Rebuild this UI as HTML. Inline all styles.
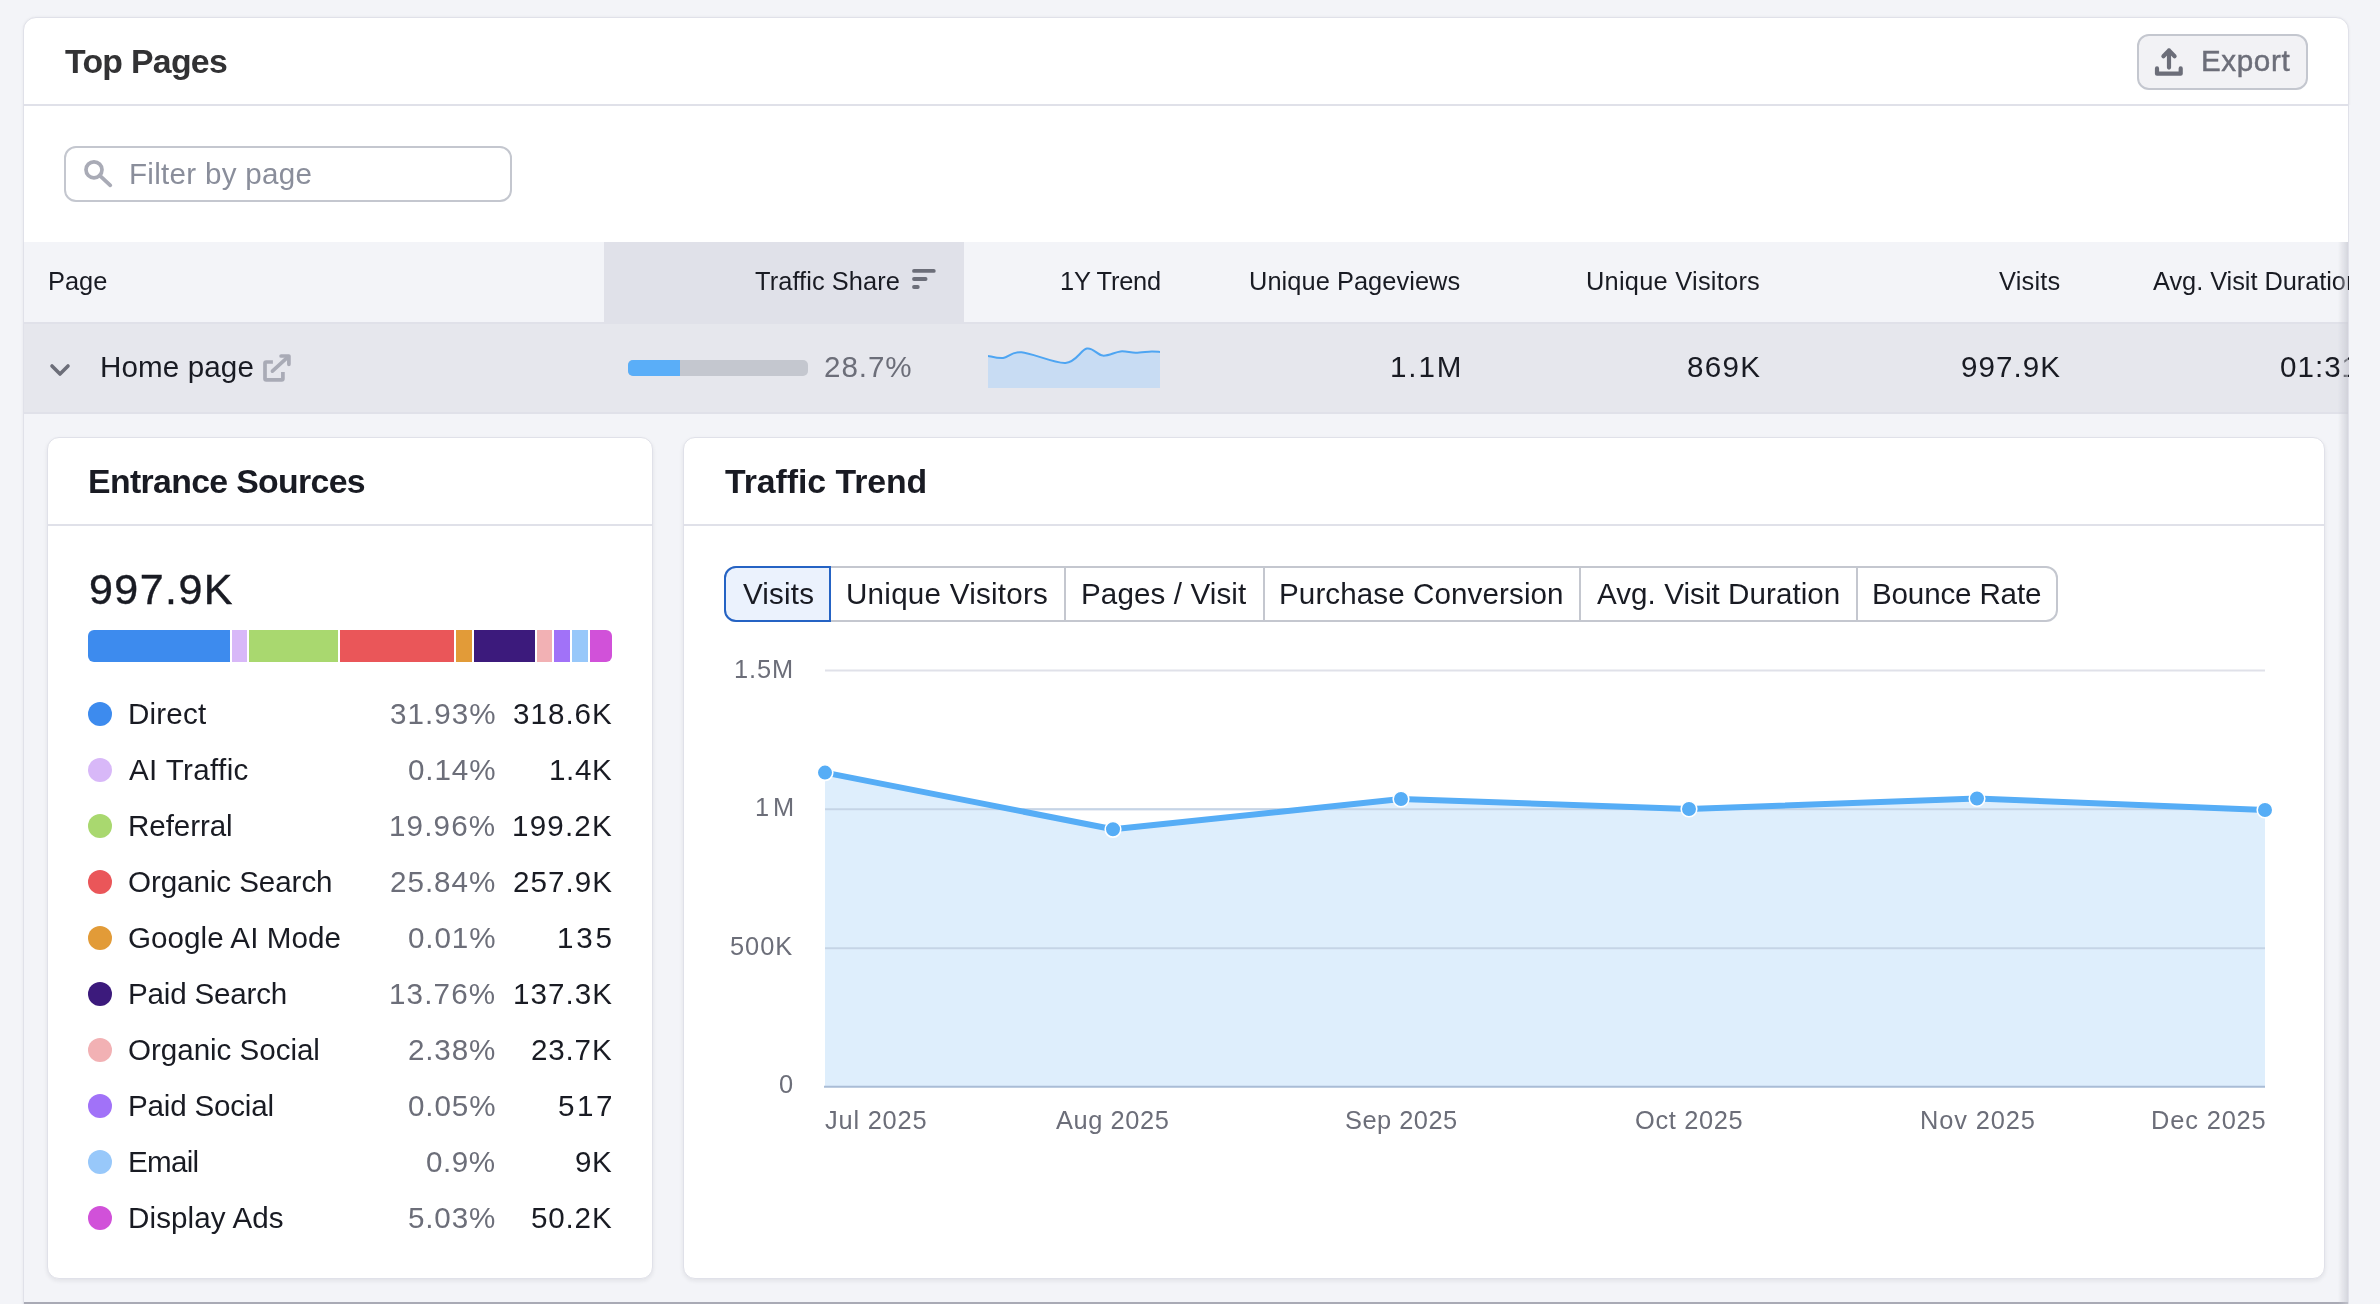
<!DOCTYPE html>
<html><head><meta charset="utf-8">
<style>
*{box-sizing:border-box;margin:0;padding:0}
html,body{width:2380px;height:1304px;overflow:hidden;background:#f3f4f8;font-family:"Liberation Sans", sans-serif;color:#191b23}
.a{position:absolute}
.t{position:absolute;white-space:nowrap;line-height:1;will-change:transform}
</style></head><body>
<div class="a" style="left:23px;top:17px;width:2326px;height:1400px;background:#fff;border:1px solid #e0e1e9;border-radius:13px;box-shadow:0 0 3px rgba(25,27,35,.06)"></div>
<div class="t" style="left:64.78px;top:44.60px;font-size:33.8px;color:#323234;font-weight:700;letter-spacing:-0.71px;">Top Pages</div>
<div class="a" style="left:24px;top:104px;width:2324px;height:2px;background:#e0e1e9"></div>
<div class="a" style="left:2137px;top:34px;width:171px;height:56px;border:2px solid #c4c7cf;border-radius:12px;background:#f2f2f5"></div>
<svg class="a" style="left:2153px;top:46px" width="32" height="32" viewBox="0 0 32 32"><path d="M16 4.4v17.2M10.4 10.2L16 4.4l5.6 5.8M4 22.4v5.3h23.7v-5.3" fill="none" stroke="#6c6e79" stroke-width="4.2" stroke-linecap="round" stroke-linejoin="round"/></svg>
<div class="t" style="left:2200.53px;top:46.00px;font-size:29.6px;color:#6c6e79;letter-spacing:0.62px;-webkit-text-stroke:0.45px #6c6e79;">Export</div>
<div class="a" style="left:64px;top:146px;width:448px;height:56px;border:2px solid #c4c7cf;border-radius:12px;background:#fff"></div>
<svg class="a" style="left:82px;top:158px" width="32" height="32" viewBox="0 0 32 32"><circle cx="12" cy="11.8" r="8" fill="none" stroke="#a9abb6" stroke-width="3.7"/><path d="M17.6 17.4L28.3 27.3" stroke="#a9abb6" stroke-width="3.8" stroke-linecap="round"/></svg>
<div class="t" style="left:128.53px;top:159.00px;font-size:29.6px;color:#8a8e9b;letter-spacing:0.28px;">Filter by page</div>
<div class="a" style="left:24px;top:242px;width:2324px;height:1062px;overflow:hidden">
<div class="a" style="left:0px;top:0px;width:2400px;height:80px;background:#f3f4f8"></div>
<div class="a" style="left:580px;top:0px;width:360px;height:82px;background:#e0e1e9"></div>
<div class="a" style="left:0px;top:80px;width:2400px;height:2px;background:#e0e1e9"></div>
<div class="a" style="left:0px;top:82px;width:2400px;height:88px;background:#e6e7ed"></div>
<div class="a" style="left:0px;top:170px;width:2400px;height:2px;background:#e0e1e9"></div>
<div class="a" style="left:0px;top:172px;width:2400px;height:1060px;background:#f3f4f8"></div>
<div class="a" style="left:0px;top:1060px;width:2400px;height:2px;background:#a9aab5"></div>
</div>
<div class="t" style="left:47.59px;top:269.00px;font-size:25.4px;color:#191b23;">Page</div>
<div class="t" style="left:755.40px;top:269.00px;font-size:25.4px;color:#191b23;letter-spacing:0.08px;">Traffic Share</div>
<svg class="a" style="left:910px;top:267px" width="28" height="24" viewBox="0 0 28 24"><path d="M4 3.9h19.8M4 12h11.6M4 20h3.8" stroke="#6c6e79" stroke-width="3.8" stroke-linecap="round"/></svg>
<div class="t" style="left:1059.91px;top:269.00px;font-size:25.4px;color:#191b23;letter-spacing:-0.21px;">1Y Trend</div>
<div class="t" style="left:1249.13px;top:269.00px;font-size:25.4px;color:#191b23;letter-spacing:0.06px;">Unique Pageviews</div>
<div class="t" style="left:1586.33px;top:269.00px;font-size:25.4px;color:#191b23;letter-spacing:0.25px;">Unique Visitors</div>
<div class="t" style="left:1998.82px;top:269.00px;font-size:25.4px;color:#191b23;letter-spacing:0.21px;">Visits</div>
<div class="t" style="left:2152.58px;top:269.00px;font-size:25.4px;color:#191b23;letter-spacing:-0.05px;">Avg. Visit Duration</div>
<svg class="a" style="left:46px;top:356px" width="28" height="28" viewBox="0 0 28 28"><path d="M6 10l8 8 8-8" fill="none" stroke="#6c6e79" stroke-width="3.6" stroke-linecap="round" stroke-linejoin="round"/></svg>
<div class="t" style="left:99.53px;top:352.00px;font-size:29.6px;color:#191b23;letter-spacing:0.11px;">Home page</div>
<svg class="a" style="left:263px;top:354px" width="28" height="28" viewBox="0 0 28 28"><path d="M9.9 8H3.2a1.2 1.2 0 0 0-1.2 1.2V24.7a1.2 1.2 0 0 0 1.2 1.2H18.7a1.2 1.2 0 0 0 1.2-1.2V18.1" fill="none" stroke="#a9abb6" stroke-width="3.7"/><path d="M9.4 17.2L24.2 3.6" fill="none" stroke="#a9abb6" stroke-width="3.6" stroke-linecap="round"/><path d="M18.1 2H25.9V10.3" fill="none" stroke="#a9abb6" stroke-width="3.7" stroke-linecap="round" stroke-linejoin="round"/></svg>
<div class="a" style="left:628px;top:360px;width:180px;height:16px;background:#c4c7cf;border-radius:5px;overflow:hidden"></div>
<div class="a" style="left:628px;top:360px;width:52px;height:16px;background:#5aaef8;border-radius:5px 0 0 5px"></div>
<div class="t" style="left:824.49px;top:352.00px;font-size:29.6px;color:#6c6e79;letter-spacing:0.93px;">28.7%</div>
<svg class="a" style="left:988px;top:340px" width="172" height="48" viewBox="0 0 172 48"><path d="M0 15.9 C2.5 16.2 9.5 18.6 15.1 18 C20.7 17.4 23.1 11.4 33.5 12.2 C43.9 13.0 66.5 23.5 77.4 22.9 C88.3 22.3 92.7 9.8 98.9 8.6 C105.2 7.4 109.3 15.1 114.9 15.6 C120.5 16.1 127.0 11.9 132.5 11.4 C137.9 10.9 142.4 12.7 147.6 12.7 C152.8 12.7 159.5 11.5 163.6 11.4 C167.7 11.3 170.6 11.9 172 12 L172 48 L0 48Z" fill="#c8dcf3"/><path d="M0 15.9 C2.5 16.2 9.5 18.6 15.1 18 C20.7 17.4 23.1 11.4 33.5 12.2 C43.9 13.0 66.5 23.5 77.4 22.9 C88.3 22.3 92.7 9.8 98.9 8.6 C105.2 7.4 109.3 15.1 114.9 15.6 C120.5 16.1 127.0 11.9 132.5 11.4 C137.9 10.9 142.4 12.7 147.6 12.7 C152.8 12.7 159.5 11.5 163.6 11.4 C167.7 11.3 170.6 11.9 172 12" fill="none" stroke="#4ea5f2" stroke-width="2"/></svg>
<div class="t" style="left:1390.08px;top:352.00px;font-size:29.6px;color:#191b23;letter-spacing:1.89px;">1.1M</div>
<div class="t" style="left:1686.92px;top:352.00px;font-size:29.6px;color:#191b23;letter-spacing:1.25px;">869K</div>
<div class="t" style="left:1961.05px;top:352.00px;font-size:29.6px;color:#191b23;letter-spacing:1.05px;">997.9K</div>
<div class="t" style="left:2279.75px;top:352.00px;font-size:29.6px;color:#191b23;letter-spacing:1.00px;">01:31</div>
<div class="a" style="left:2338px;top:242px;width:10px;height:1062px;background:linear-gradient(to right,rgba(200,201,210,0),rgba(200,201,210,.7))"></div>
<div class="a" style="left:2349px;top:105px;width:31px;height:1199px;background:#f3f4f8"></div>
<div class="a" style="left:47px;top:437px;width:606px;height:842px;background:#fff;border:1px solid #e0e1e9;border-radius:12px;box-shadow:0 2px 4px rgba(25,27,35,.08)"></div>
<div class="t" style="left:88.14px;top:464.80px;font-size:33.8px;color:#191b23;font-weight:700;letter-spacing:-0.65px;">Entrance Sources</div>
<div class="a" style="left:48px;top:524px;width:604px;height:2px;background:#e0e1e9"></div>
<div class="t" style="left:88.54px;top:567.90px;font-size:43px;color:#191b23;letter-spacing:1.43px;-webkit-text-stroke:0.4px #191b23;">997.9K</div>
<div class="a" style="left:88px;top:630px;width:142px;height:32px;background:#3d8bee;border-radius:6px 0 0 6px;"></div>
<div class="a" style="left:232px;top:630px;width:15px;height:32px;background:#d8b8f8;"></div>
<div class="a" style="left:249px;top:630px;width:89px;height:32px;background:#a9d86f;"></div>
<div class="a" style="left:340px;top:630px;width:114px;height:32px;background:#ea5659;"></div>
<div class="a" style="left:456px;top:630px;width:16px;height:32px;background:#e29b38;"></div>
<div class="a" style="left:474px;top:630px;width:61px;height:32px;background:#3c1a7c;"></div>
<div class="a" style="left:537px;top:630px;width:15px;height:32px;background:#f2b1b4;"></div>
<div class="a" style="left:554px;top:630px;width:16px;height:32px;background:#a172f8;"></div>
<div class="a" style="left:572px;top:630px;width:16px;height:32px;background:#98c8fa;"></div>
<div class="a" style="left:590px;top:630px;width:22px;height:32px;background:#d151d9;border-radius:0 6px 6px 0;"></div>
<div class="a" style="left:88px;top:702px;width:24px;height:24px;background:#3d8bee;border-radius:50%"></div>
<div class="t" style="left:128.03px;top:698.80px;font-size:29.6px;color:#191b23;letter-spacing:0.19px;">Direct</div>
<div class="t" style="left:389.51px;top:698.80px;font-size:29.6px;color:#6c6e79;letter-spacing:1.05px;">31.93%</div>
<div class="t" style="left:513.11px;top:698.80px;font-size:29.6px;color:#191b23;letter-spacing:1.00px;">318.6K</div>
<div class="a" style="left:88px;top:758px;width:24px;height:24px;background:#d8b8f8;border-radius:50%"></div>
<div class="t" style="left:128.55px;top:754.80px;font-size:29.6px;color:#191b23;letter-spacing:0.35px;">AI Traffic</div>
<div class="t" style="left:407.75px;top:754.80px;font-size:29.6px;color:#6c6e79;letter-spacing:0.89px;">0.14%</div>
<div class="t" style="left:549.18px;top:754.80px;font-size:29.6px;color:#191b23;letter-spacing:0.62px;">1.4K</div>
<div class="a" style="left:88px;top:814px;width:24px;height:24px;background:#a9d86f;border-radius:50%"></div>
<div class="t" style="left:128.03px;top:810.80px;font-size:29.6px;color:#191b23;letter-spacing:-0.08px;">Referral</div>
<div class="t" style="left:388.98px;top:810.80px;font-size:29.6px;color:#6c6e79;letter-spacing:1.15px;">19.96%</div>
<div class="t" style="left:512.18px;top:810.80px;font-size:29.6px;color:#191b23;letter-spacing:1.19px;">199.2K</div>
<div class="a" style="left:88px;top:870px;width:24px;height:24px;background:#ea5659;border-radius:50%"></div>
<div class="t" style="left:128.33px;top:866.80px;font-size:29.6px;color:#191b23;letter-spacing:-0.08px;">Organic Search</div>
<div class="t" style="left:389.79px;top:866.80px;font-size:29.6px;color:#6c6e79;letter-spacing:0.99px;">25.84%</div>
<div class="t" style="left:512.99px;top:866.80px;font-size:29.6px;color:#191b23;letter-spacing:1.02px;">257.9K</div>
<div class="a" style="left:88px;top:926px;width:24px;height:24px;background:#e29b38;border-radius:50%"></div>
<div class="t" style="left:128.27px;top:922.80px;font-size:29.6px;color:#191b23;letter-spacing:0.05px;">Google AI Mode</div>
<div class="t" style="left:407.75px;top:922.80px;font-size:29.6px;color:#6c6e79;letter-spacing:0.89px;">0.01%</div>
<div class="t" style="left:557.18px;top:922.80px;font-size:29.6px;color:#191b23;letter-spacing:2.75px;">135</div>
<div class="a" style="left:88px;top:982px;width:24px;height:24px;background:#3c1a7c;border-radius:50%"></div>
<div class="t" style="left:128.03px;top:978.80px;font-size:29.6px;color:#191b23;letter-spacing:-0.20px;">Paid Search</div>
<div class="t" style="left:388.98px;top:978.80px;font-size:29.6px;color:#6c6e79;letter-spacing:1.15px;">13.76%</div>
<div class="t" style="left:512.88px;top:978.80px;font-size:29.6px;color:#191b23;letter-spacing:1.05px;">137.3K</div>
<div class="a" style="left:88px;top:1038px;width:24px;height:24px;background:#f2b1b4;border-radius:50%"></div>
<div class="t" style="left:128.33px;top:1034.80px;font-size:29.6px;color:#191b23;letter-spacing:-0.04px;">Organic Social</div>
<div class="t" style="left:407.99px;top:1034.80px;font-size:29.6px;color:#6c6e79;letter-spacing:0.83px;">2.38%</div>
<div class="t" style="left:531.19px;top:1034.80px;font-size:29.6px;color:#191b23;letter-spacing:0.82px;">23.7K</div>
<div class="a" style="left:88px;top:1094px;width:24px;height:24px;background:#a172f8;border-radius:50%"></div>
<div class="t" style="left:128.03px;top:1090.80px;font-size:29.6px;color:#191b23;letter-spacing:-0.21px;">Paid Social</div>
<div class="t" style="left:407.75px;top:1090.80px;font-size:29.6px;color:#6c6e79;letter-spacing:0.89px;">0.05%</div>
<div class="t" style="left:558.01px;top:1090.80px;font-size:29.6px;color:#191b23;letter-spacing:2.54px;">517</div>
<div class="a" style="left:88px;top:1150px;width:24px;height:24px;background:#98c8fa;border-radius:50%"></div>
<div class="t" style="left:128.03px;top:1146.80px;font-size:29.6px;color:#191b23;letter-spacing:-0.74px;">Email</div>
<div class="t" style="left:425.95px;top:1146.80px;font-size:29.6px;color:#6c6e79;letter-spacing:0.52px;">0.9%</div>
<div class="t" style="left:575.05px;top:1146.80px;font-size:29.6px;color:#191b23;letter-spacing:0.42px;">9K</div>
<div class="a" style="left:88px;top:1206px;width:24px;height:24px;background:#d151d9;border-radius:50%"></div>
<div class="t" style="left:128.03px;top:1202.80px;font-size:29.6px;color:#191b23;letter-spacing:0.10px;">Display Ads</div>
<div class="t" style="left:408.01px;top:1202.80px;font-size:29.6px;color:#6c6e79;letter-spacing:0.83px;">5.03%</div>
<div class="t" style="left:531.21px;top:1202.80px;font-size:29.6px;color:#191b23;letter-spacing:0.82px;">50.2K</div>
<div class="a" style="left:683px;top:437px;width:1642px;height:842px;background:#fff;border:1px solid #e0e1e9;border-radius:12px;box-shadow:0 2px 4px rgba(25,27,35,.08)"></div>
<div class="t" style="left:724.78px;top:464.70px;font-size:33.8px;color:#191b23;font-weight:700;letter-spacing:-0.05px;">Traffic Trend</div>
<div class="a" style="left:684px;top:524px;width:1640px;height:2px;background:#e0e1e9"></div>
<div class="a" style="left:724px;top:566px;width:1334px;height:56px;border:2px solid #c4c7cf;border-radius:12px;background:#fff"></div>
<div class="a" style="left:1064px;top:566px;width:2px;height:56px;background:#c4c7cf"></div>
<div class="a" style="left:1263px;top:566px;width:2px;height:56px;background:#c4c7cf"></div>
<div class="a" style="left:1579px;top:566px;width:2px;height:56px;background:#c4c7cf"></div>
<div class="a" style="left:1856px;top:566px;width:2px;height:56px;background:#c4c7cf"></div>
<div class="a" style="left:724px;top:566px;width:107px;height:56px;border:2px solid #2563c4;border-radius:12px 0 0 12px;background:#ebf2fd"></div>
<div class="t" style="left:742.61px;top:578.50px;font-size:29.6px;color:#191b23;letter-spacing:0.16px;">Visits</div>
<div class="t" style="left:846.45px;top:578.50px;font-size:29.6px;color:#191b23;letter-spacing:0.24px;">Unique Visitors</div>
<div class="t" style="left:1080.73px;top:578.50px;font-size:29.6px;color:#191b23;letter-spacing:0.11px;">Pages / Visit</div>
<div class="t" style="left:1278.93px;top:578.50px;font-size:29.6px;color:#191b23;letter-spacing:0.09px;">Purchase Conversion</div>
<div class="t" style="left:1597.15px;top:578.50px;font-size:29.6px;color:#191b23;letter-spacing:0.05px;">Avg. Visit Duration</div>
<div class="t" style="left:1871.83px;top:578.50px;font-size:29.6px;color:#191b23;letter-spacing:-0.17px;">Bounce Rate</div>
<svg class="a" style="left:0;top:0" width="2380" height="1304" viewBox="0 0 2380 1304">
<line x1="825" y1="670.5" x2="2265" y2="670.5" stroke="#e0e1e9" stroke-width="2"/>
<line x1="825" y1="809.3" x2="2265" y2="809.3" stroke="#e0e1e9" stroke-width="2"/>
<line x1="825" y1="948.2" x2="2265" y2="948.2" stroke="#e0e1e9" stroke-width="2"/>
<path d="M825 772.6 L1113 829.3 L1401 799 L1689 809 L1977 798.5 L2265 810 L2265 1086.8 L825 1086.8Z" fill="#dcedfc" fill-opacity="0.95"/>
<line x1="825" y1="809.3" x2="2265" y2="809.3" stroke="#c5d4e6" stroke-width="2"/>
<line x1="825" y1="948.2" x2="2265" y2="948.2" stroke="#c5d4e6" stroke-width="2"/>
<line x1="824" y1="1086.8" x2="2265" y2="1086.8" stroke="#a9bcd6" stroke-width="2"/>
<path d="M825 772.6 L1113 829.3 L1401 799 L1689 809 L1977 798.5 L2265 810" fill="none" stroke="#56adf6" stroke-width="6" stroke-linejoin="round"/>
<circle cx="825" cy="772.6" r="7.8" fill="#56adf6" stroke="#fff" stroke-width="1.6"/>
<circle cx="1113" cy="829.3" r="7.8" fill="#56adf6" stroke="#fff" stroke-width="1.6"/>
<circle cx="1401" cy="799" r="7.8" fill="#56adf6" stroke="#fff" stroke-width="1.6"/>
<circle cx="1689" cy="809" r="7.8" fill="#56adf6" stroke="#fff" stroke-width="1.6"/>
<circle cx="1977" cy="798.5" r="7.8" fill="#56adf6" stroke="#fff" stroke-width="1.6"/>
<circle cx="2265" cy="810" r="7.8" fill="#56adf6" stroke="#fff" stroke-width="1.6"/>
</svg>
<div class="t" style="left:733.81px;top:656.60px;font-size:25.4px;color:#6c6e79;letter-spacing:0.89px;">1.5M</div>
<div class="t" style="left:754.61px;top:795.40px;font-size:25.4px;color:#6c6e79;letter-spacing:3.77px;">1M</div>
<div class="t" style="left:730.41px;top:934.30px;font-size:25.4px;color:#6c6e79;letter-spacing:0.97px;">500K</div>
<div class="t" style="left:778.65px;top:1072.30px;font-size:25.4px;color:#6c6e79;">0</div>
<div class="t" style="left:825.37px;top:1108.00px;font-size:25.4px;color:#6c6e79;letter-spacing:0.79px;">Jul 2025</div>
<div class="t" style="left:1056.38px;top:1108.00px;font-size:25.4px;color:#6c6e79;letter-spacing:0.59px;">Aug 2025</div>
<div class="t" style="left:1344.57px;top:1108.00px;font-size:25.4px;color:#6c6e79;letter-spacing:0.50px;">Sep 2025</div>
<div class="t" style="left:1634.90px;top:1108.00px;font-size:25.4px;color:#6c6e79;letter-spacing:0.67px;">Oct 2025</div>
<div class="t" style="left:1919.79px;top:1108.00px;font-size:25.4px;color:#6c6e79;letter-spacing:0.87px;">Nov 2025</div>
<div class="t" style="left:2150.99px;top:1108.00px;font-size:25.4px;color:#6c6e79;letter-spacing:0.86px;">Dec 2025</div>
</body></html>
